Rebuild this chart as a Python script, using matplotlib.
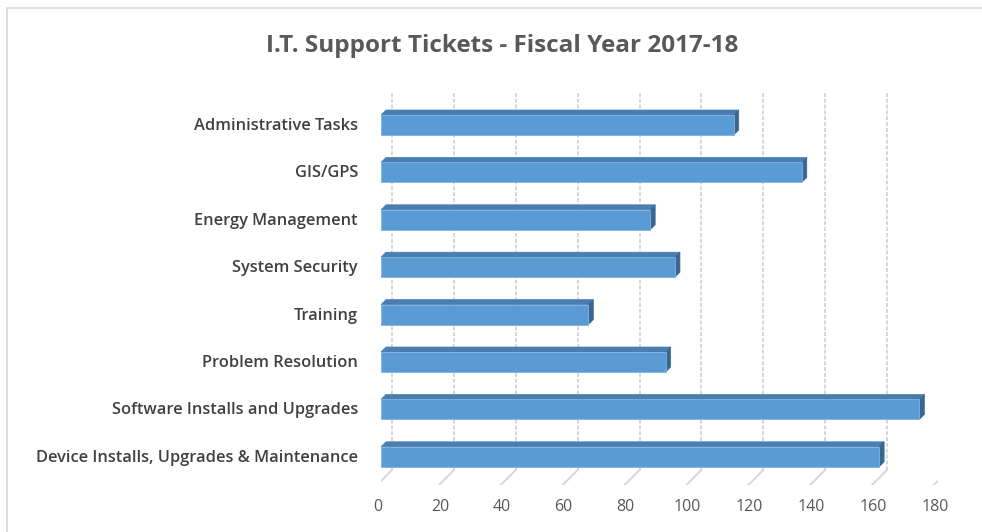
import matplotlib
matplotlib.use("Agg")
import matplotlib.pyplot as plt
from matplotlib.patches import Polygon, Rectangle

# ticket counts per category (top to bottom)
categories = [
    "Administrative Tasks",
    "GIS/GPS",
    "Energy Management",
    "System Security",
    "Training",
    "Problem Resolution",
    "Software Installs and Upgrades",
    "Device Installs, Upgrades & Maintenance",
]
tickets = [114, 136, 87, 95, 67, 92, 174, 161]
x_ticks = [0, 20, 40, 60, 80, 100, 120, 140, 160, 180]

TITLE = "I.T. Support Tickets - Fiscal Year 2017-18"

FRONT = "#5b9bd5"
TOP = "#4a7eb0"
SIDE = "#3a6792"
GRID = "#d6d6d6"
TEXT = "#404040"
TICK = "#595959"

W, H, DPI = 982, 532, 100
fig = plt.figure(figsize=(W / DPI, H / DPI), dpi=DPI)
plt.rcParams["font.family"] = ["Open Sans", "DejaVu Sans"]

# plot area in pixels: value 0 of the bar fronts sits at x=381
x0_px, x1_px = 381, 381 + 180 * 3.094
y_top_px, y_bot_px = 93, 485
ax = fig.add_axes([x0_px / W, 1 - y_bot_px / H,
                   (x1_px - x0_px) / W, (y_bot_px - y_top_px) / H])
row_px = 47.4
first_px = 125
ax.set_xlim(0, 180)
ax.set_ylim((y_bot_px - first_px) / row_px, (y_top_px - first_px) / row_px)
ax.axis("off")

# pixel -> data unit conversion
px_x = 180 / (x1_px - x0_px)
px_y = 1 / row_px

depth_x, depth_y = 5 * px_x, 5 * px_y        # bar depth
wall_x = 11 * px_x                            # back wall offset
floor_x, floor_y = 15 * px_x, 15 * px_y       # floor depth
wall_bottom = (470 - first_px) * px_y

# back wall gridlines and floor lines
for v in x_ticks:
    xb = v + wall_x
    ax.plot([xb, xb], [ax.get_ylim()[1], wall_bottom], color=GRID,
            lw=1.4, ls=(0, (2, 1)), zorder=1)
    ax.plot([xb, xb - floor_x], [wall_bottom, wall_bottom + floor_y],
            color=GRID, lw=1.4, zorder=1)
    ax.text(xb - floor_x + 1 * px_x, wall_bottom + floor_y + 22 * px_y,
            str(v), ha="center", va="center", fontsize=11.5, color=TICK,
            clip_on=False)

# 3d-looking bars: front face, top face, right side face
bar_h = 20 * px_y
for i, (name, val) in enumerate(zip(categories, tickets)):
    yt = i - bar_h / 2
    yb = i + bar_h / 2
    ax.add_patch(Polygon([(0, yt), (val, yt), (val + depth_x, yt - depth_y),
                          (depth_x, yt - depth_y)], closed=True,
                         facecolor=TOP, edgecolor=TOP, lw=0.5, zorder=3))
    ax.add_patch(Polygon([(val, yt), (val + depth_x, yt - depth_y),
                          (val + depth_x, yb - depth_y), (val, yb)],
                         closed=True, facecolor=SIDE, edgecolor=SIDE,
                         lw=0.5, zorder=3))
    ax.add_patch(Rectangle((0, yt), val, bar_h, facecolor=FRONT,
                           edgecolor="#7fb2e0", lw=0.6, zorder=4))
    ax.text(-23 * px_x, i + 1 * px_y, name, ha="right", va="center",
            fontsize=11.8, fontweight="semibold", color=TEXT, clip_on=False)

fig.text(502 / W, 1 - 46 / H, TITLE, ha="center", va="center",
         fontsize=17.5, fontweight="bold", color=TICK)

# chart area border
fig.add_artist(Rectangle((7 / W, -0.1), 1.1, 1 - 8 / H + 0.1,
                         transform=fig.transFigure, fill=False,
                         edgecolor="#d9d9d9", lw=1.2))

fig.savefig("out.png", dpi=DPI, facecolor="white")
